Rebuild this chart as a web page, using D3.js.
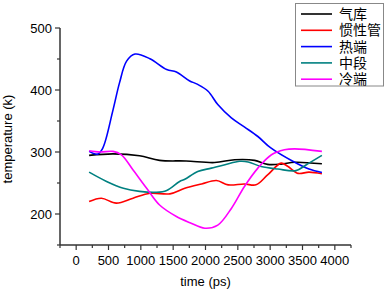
<!DOCTYPE html>
<html><head><meta charset="utf-8">
<script src="https://cdn.jsdelivr.net/npm/d3@7/dist/d3.min.js"></script>
<style>body{margin:0;background:#fff;}svg{display:block;}</style>
</head><body>
<svg id="c" width="387" height="291"></svg>
<script>
const seriesNames = ["气库", "惯性管", "热端", "中段", "冷端"];
const seriesColors = ["#000000", "#ff0000", "#0000ff", "#008080", "#ff00ff"];
const xTicks = [0, 500, 1000, 1500, 2000, 2500, 3000, 3500, 4000];
const yTicks = [200, 300, 400, 500];

const qikuX = [200, 570, 980, 1290, 1700, 2140, 2450, 2760, 2960, 3170, 3380, 3800];
const qikuY = [294.5, 297, 294, 286.5, 285.5, 283, 287.5, 286.5, 280, 280.5, 283.5, 281];

const guanxingX = [200, 390, 620, 880, 1140, 1450, 1680, 1940, 2170, 2350, 2600, 2780, 2960, 3170, 3270, 3430, 3600, 3800];
const guanxingY = [220, 225.5, 217.5, 225.5, 233.5, 232.5, 241.5, 248.5, 254, 247, 248.5, 247, 263, 282, 277, 265.5, 267.5, 265];

const reX = [200, 330, 410, 570, 670, 780, 910, 1140, 1400, 1550, 1750, 1880, 2040, 2190, 2400, 2600, 2810, 3010, 3350, 3600, 3800];
const reY = [301, 296.5, 306, 368, 411.5, 446.5, 458, 450.5, 433, 429, 415, 409, 398, 376.5, 355, 340.5, 325, 306.5, 285, 272.5, 267];

const zhongX = [200, 470, 730, 980, 1240, 1400, 1600, 1680, 1880, 2090, 2300, 2530, 2660, 2860, 3120, 3400, 3560, 3800];
const zhongY = [267.5, 252.5, 241.5, 236.5, 235, 238, 252.5, 256, 268.5, 274, 279.5, 285, 284, 276.5, 272.5, 270, 279.5, 294.5];

const lengX = [200, 370, 570, 700, 880, 1090, 1290, 1550, 1760, 1990, 2190, 2400, 2600, 2810, 3020, 3220, 3380, 3800];
const lengY = [302, 300, 301, 295.5, 271, 241.5, 214.5, 196, 186, 177, 182, 209, 244, 274, 295.5, 303.5, 305, 301];

const seriesX = [qikuX, guanxingX, reX, zhongX, lengX];
const seriesY = [qikuY, guanxingY, reY, zhongY, lengY];

const svg = d3.select("#c");
const x = d3.scaleLinear().domain([-250, 4250]).range([60, 351]);
const y = d3.scaleLinear().domain([150, 500]).range([245, 28]);
const axisColor = "#333";
const fontTick = "Liberation Sans, Arial, sans-serif";

// Y axis
const gy = svg.append("g").attr("transform", "translate(60,0)");
gy.append("line").attr("x1", 0).attr("x2", 0).attr("y1", y(500)).attr("y2", y(150))
  .attr("stroke", axisColor).attr("stroke-width", 1.5);
d3.range(150, 501, 50).forEach(v => {
  const major = v % 100 === 0;
  gy.append("line").attr("x1", major ? -5 : -3).attr("x2", 0).attr("y1", y(v)).attr("y2", y(v))
    .attr("stroke", axisColor).attr("stroke-width", 1.2);
});
yTicks.forEach(v => {
  gy.append("text").attr("x", -8).attr("y", y(v)).attr("dy", "0.35em").attr("text-anchor", "end")
    .attr("font-family", fontTick).attr("font-size", 13).attr("fill", "#000").text(v);
});

// X axis
const gx = svg.append("g").attr("transform", "translate(0,245)");
gx.append("line").attr("x1", 60).attr("x2", x(4250)).attr("y1", 0).attr("y2", 0)
  .attr("stroke", axisColor).attr("stroke-width", 1.5);
d3.range(-250, 4251, 250).forEach(v => {
  const major = v % 500 === 0;
  gx.append("line").attr("x1", x(v)).attr("x2", x(v)).attr("y1", 0).attr("y2", major ? 5 : 3)
    .attr("stroke", axisColor).attr("stroke-width", 1.2);
});
xTicks.forEach(v => {
  gx.append("text").attr("x", x(v)).attr("y", 20).attr("text-anchor", "middle")
    .attr("font-family", fontTick).attr("font-size", 13).attr("fill", "#000").text(v);
});

// Axis titles
svg.append("text").attr("x", 205.5).attr("y", 286).attr("text-anchor", "middle")
  .attr("font-family", fontTick).attr("font-size", 13).text("time (ps)");
svg.append("text").attr("transform", "translate(12,139) rotate(-90)").attr("text-anchor", "middle")
  .attr("font-family", fontTick).attr("font-size", 13).text("temperature (k)");

// Lines
const line = d3.line().x(d => x(d[0])).y(d => y(d[1])).curve(d3.curveCatmullRom.alpha(0.5));
seriesNames.forEach((n, i) => {
  const pts = seriesX[i].map((v, j) => [v, seriesY[i][j]]);
  svg.append("path").attr("d", line(pts)).attr("fill", "none")
    .attr("stroke", seriesColors[i]).attr("stroke-width", 1.6);
});

// Legend
const lg = svg.append("g");
lg.append("rect").attr("x", 295.5).attr("y", 3.5).attr("width", 88).attr("height", 82.5)
  .attr("fill", "#fff").attr("stroke", "#888").attr("stroke-width", 1);
seriesNames.forEach((n, i) => {
  const yy = 14 + i * 16.3;
  lg.append("line").attr("x1", 301).attr("x2", 332).attr("y1", yy).attr("y2", yy)
    .attr("stroke", seriesColors[i]).attr("stroke-width", 1.6);
  lg.append("text").attr("x", 339).attr("y", yy).attr("dy", "0.36em")
    .attr("font-family", "Liberation Sans, Noto Sans CJK SC, sans-serif").attr("font-size", 14).text(n);
});
</script>
</body></html>
